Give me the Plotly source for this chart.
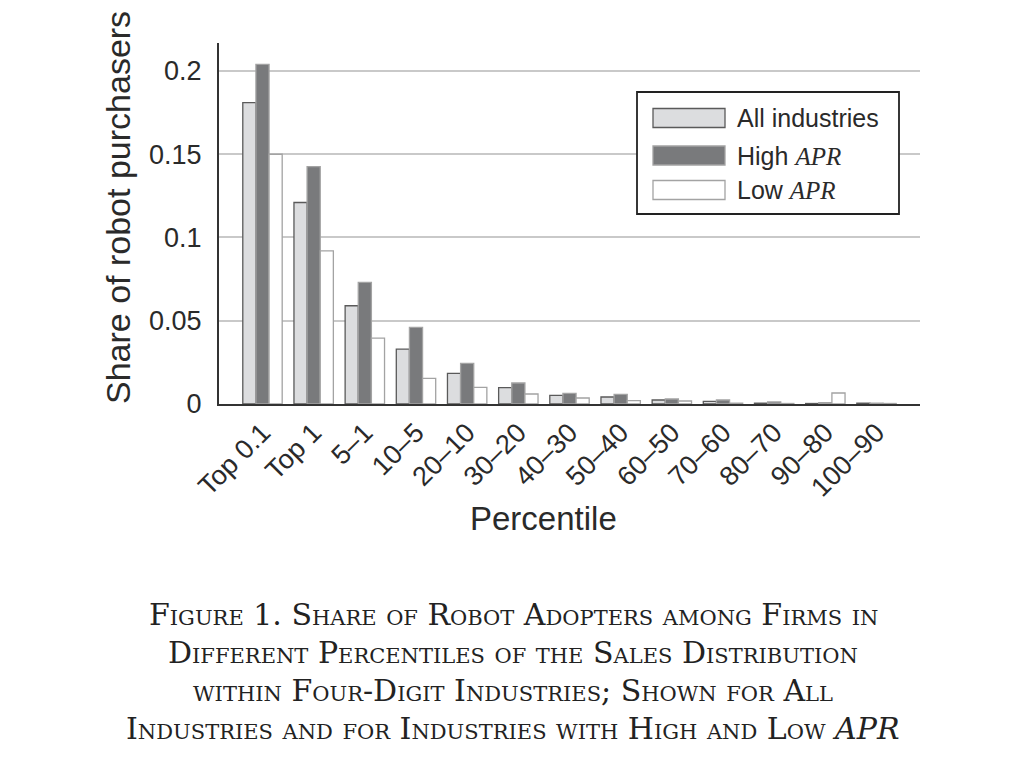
import plotly.graph_objects as go

categories = ["Top 0.1", "Top 1", "5–1", "10–5", "20–10", "30–20", "40–30",
              "50–40", "60–50", "70–60", "80–70", "90–80", "100–90"]
all_ind = [0.181, 0.121, 0.059, 0.033, 0.0184, 0.0098, 0.0052, 0.0042, 0.0024, 0.0016, 0.0005, 0.0003, 0.0005]
high_apr = [0.204, 0.1425, 0.073, 0.046, 0.0244, 0.0126, 0.0064, 0.0058, 0.0030, 0.0024, 0.0012, 0.0008, 0.0005]
low_apr = [0.150, 0.092, 0.0396, 0.0154, 0.0100, 0.0060, 0.0036, 0.0020, 0.0018, 0.0005, 0.0003, 0.0066, 0.0003]
y_ticks = [0, 0.05, 0.1, 0.15, 0.2]
y_tick_text = ["0", "0.05", "0.1", "0.15", "0.2"]

W, H = 1024, 768
L, R, T, B = 219, 920, 43, 404

def px(x):
    return (x - L) / (R - L)

def py(y):
    return (B - y) / (B - T)

SANS = "Liberation Sans, Arial, sans-serif"
SERIF = "DejaVu Serif, Liberation Serif, serif"
TXT = "#2a2a2a"

fig = go.Figure()
fig.add_trace(go.Bar(x=categories, y=all_ind, name="All industries",
                     marker=dict(color="#dcdddf", line=dict(color="#5a5a5a", width=1.3))))
fig.add_trace(go.Bar(x=categories, y=high_apr, name="High APR",
                     marker=dict(color="#797a7c", line=dict(color="#a3a3a3", width=1.3))))
fig.add_trace(go.Bar(x=categories, y=low_apr, name="Low APR",
                     marker=dict(color="#ffffff", line=dict(color="#a3a3a3", width=1.3))))

fig.update_layout(
    width=W, height=H,
    margin=dict(l=L, r=W - R, t=T, b=H - B, pad=0),
    paper_bgcolor="white", plot_bgcolor="white",
    barmode="group", bargap=0.23, bargroupgap=0,
    showlegend=False,
    font=dict(family=SANS, color=TXT),
)
fig.update_xaxes(
    range=[-0.85, 12.85], showgrid=False, showline=True, linecolor="#333333", linewidth=2,
    ticks="", tickangle=-45, tickfont=dict(size=27, family=SANS, color=TXT),
    ticklabelstandoff=0,
)
fig.update_yaxes(
    range=[0, 0.2168], tickvals=y_ticks, ticktext=y_tick_text,
    showgrid=True, gridcolor="#c9c9c9", gridwidth=1.5,
    showline=True, linecolor="#333333", linewidth=2, zeroline=False,
    ticks="", tickfont=dict(size=27, family=SANS, color=TXT), ticklabelstandoff=10,
)

# axis titles
fig.add_annotation(text="Share of robot purchasers", xref="paper", yref="paper",
                   x=px(118), y=py(208), textangle=-90, showarrow=False,
                   font=dict(size=34, family=SANS, color=TXT), xanchor="center", yanchor="middle")
fig.add_annotation(text="Percentile", xref="paper", yref="paper",
                   x=px(543), y=py(518), showarrow=False,
                   font=dict(size=33, family=SANS, color=TXT), xanchor="center", yanchor="middle")

# legend box drawn manually
fig.add_shape(type="rect", xref="paper", yref="paper",
              x0=px(637), x1=px(899), y0=py(92), y1=py(214),
              line=dict(color="#222222", width=1.8), fillcolor="white", layer="above")
APR = "<span style='font-family:Liberation Serif'><i>APR</i></span>"
legend_items = [("All industries", "#dcdddf", "#5a5a5a", 118),
                ("High " + APR, "#797a7c", "#a3a3a3", 155.5),
                ("Low " + APR, "#ffffff", "#a3a3a3", 190)]
for label, fc, lc, yc in legend_items:
    fig.add_shape(type="rect", xref="paper", yref="paper",
                  x0=px(653), x1=px(725), y0=py(yc - 9.5), y1=py(yc + 9.5),
                  line=dict(color=lc, width=1.3), fillcolor=fc, layer="above")
    fig.add_annotation(text=label, xref="paper", yref="paper", x=px(735), y=py(yc),
                       showarrow=False, xanchor="left", yanchor="middle",
                       font=dict(size=25, family=SANS, color=TXT))

caption = [
    ("Figure 1. Share of Robot Adopters among Firms in", 614),
    ("Different Percentiles of the Sales Distribution", 652),
    ("within Four-Digit Industries; Shown for All", 690),
    ("Industries and for Industries with High and Low <i>APR</i>", 728),
]
for line, yc in caption:
    fig.add_annotation(text=line, xref="paper", yref="paper", x=px(513), y=py(yc),
                       showarrow=False, xanchor="center", yanchor="middle",
                       font=dict(size=30, family=SERIF, color="#222222", variant="small-caps"))

fig.write_html("out.html")
